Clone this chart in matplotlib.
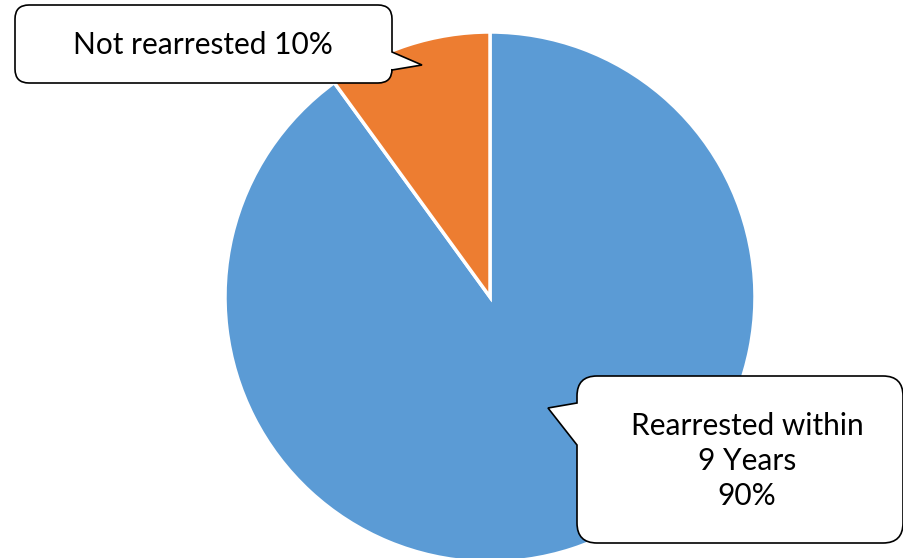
import matplotlib
matplotlib.use("Agg")
import matplotlib.pyplot as plt
from matplotlib.path import Path
from matplotlib.patches import PathPatch

labels = ["Rearrested within\n9 Years\n90%", "Not rearrested 10%"]
values = [90, 10]
colors = ["#5B9BD5", "#ED7D31"]

W, H = 904, 558
fig = plt.figure(figsize=(W / 100, H / 100), dpi=100)
ax = fig.add_axes([0, 0, 1, 1])
ax.set_xlim(0, W)
ax.set_ylim(0, H)
ax.set_aspect("equal")
ax.axis("off")

ax.pie(values, colors=colors, startangle=90, counterclock=False,
       center=(490, H - 297), radius=265,
       wedgeprops=dict(edgecolor="white", linewidth=2.5))
ax.set_xlim(0, W)
ax.set_ylim(0, H)


def callout(x0, y0, x1, y1, r, side, pa, pb, tip):
    # pixel coords (y down) -> data (y up)
    f = lambda x, y: (x, H - y)
    v, c = [], []
    def add(pt, code):
        v.append(f(*pt)); c.append(code)
    add((x0 + r, y0), Path.MOVETO)
    add((x1 - r, y0), Path.LINETO)
    add((x1, y0), Path.CURVE3); add((x1, y0 + r), Path.CURVE3)
    if side == "right":
        add((x1, pa), Path.LINETO)
        add(tip, Path.LINETO)
        add((x1, pb), Path.LINETO)
    add((x1, y1 - r), Path.LINETO)
    add((x1, y1), Path.CURVE3); add((x1 - r, y1), Path.CURVE3)
    add((x0 + r, y1), Path.LINETO)
    add((x0, y1), Path.CURVE3); add((x0, y1 - r), Path.CURVE3)
    if side == "left":
        add((x0, pb), Path.LINETO)
        add(tip, Path.LINETO)
        add((x0, pa), Path.LINETO)
    add((x0, y0 + r), Path.LINETO)
    add((x0, y0), Path.CURVE3); add((x0 + r, y0), Path.CURVE3)
    add((x0 + r, y0), Path.CLOSEPOLY)
    p = PathPatch(Path(v, c), facecolor="white", edgecolor="black",
                  linewidth=1.2, zorder=5)
    ax.add_patch(p)


callout(15, 5, 392, 83, 14, "right", 52, 70, (422, 65))
callout(577, 376, 903, 543, 20, "left", 403, 445, (548, 408))

font = dict(family=["Lato", "DejaVu Sans"], fontsize=21.5, color="black", zorder=6)
ax.text(203, H - 45, labels[1], ha="center", va="center", **font)
ax.text(747, H - 461, labels[0], ha="center", va="center",
        linespacing=1.3, multialignment="center", **font)

fig.savefig("out.png", dpi=100)
